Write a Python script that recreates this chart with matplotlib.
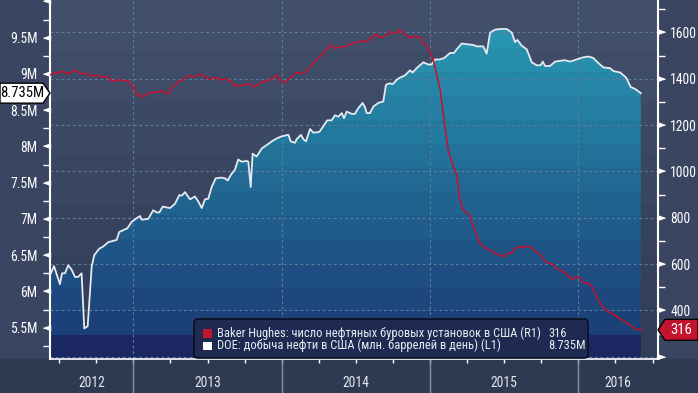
import numpy as np
import matplotlib
matplotlib.use("Agg")
import matplotlib.pyplot as plt
import matplotlib.transforms as mtransforms
from matplotlib import font_manager as fm
from matplotlib.patches import Polygon, FancyBboxPatch, Rectangle
from matplotlib.colors import to_rgb

# DOE: US crude output, mln barrels/day (left axis)
oil_t = [2012.444, 2012.465, 2012.505, 2012.519, 2012.539, 2012.561, 2012.584, 2012.606, 2012.628, 2012.651,
         2012.669, 2012.692, 2012.719, 2012.736, 2012.770, 2012.797, 2012.831, 2012.887, 2012.905, 2012.959,
         2012.989,
         2013.022, 2013.045, 2013.056, 2013.100, 2013.134, 2013.157, 2013.175, 2013.198, 2013.247, 2013.281,
         2013.310, 2013.326, 2013.348, 2013.382, 2013.415, 2013.438, 2013.461, 2013.483, 2013.505, 2013.528,
         2013.555, 2013.591, 2013.618, 2013.636, 2013.658, 2013.685, 2013.707, 2013.730, 2013.764, 2013.775,
         2013.791, 2013.804, 2013.831, 2013.865, 2013.899, 2013.933, 2013.966,
         2014.000, 2014.045, 2014.061, 2014.090, 2014.101, 2014.130, 2014.146, 2014.164, 2014.191, 2014.213,
         2014.254, 2014.281, 2014.307, 2014.337, 2014.359, 2014.382, 2014.405, 2014.420, 2014.438, 2014.472,
         2014.494, 2014.517, 2014.546, 2014.562, 2014.573, 2014.595, 2014.618, 2014.651, 2014.685, 2014.703,
         2014.726, 2014.749, 2014.776, 2014.798, 2014.831, 2014.865, 2014.882, 2014.910, 2014.955, 2014.989,
         2015.011, 2015.034, 2015.067, 2015.096, 2015.135, 2015.162, 2015.180, 2015.214, 2015.248, 2015.292,
         2015.315, 2015.359, 2015.382, 2015.405, 2015.438, 2015.472, 2015.517, 2015.551, 2015.573, 2015.589,
         2015.618, 2015.652, 2015.686, 2015.720, 2015.746, 2015.760, 2015.776, 2015.809, 2015.843, 2015.877,
         2015.910, 2015.944, 2015.989,
         2016.034, 2016.067, 2016.101, 2016.135, 2016.169, 2016.214, 2016.236, 2016.282, 2016.322, 2016.353,
         2016.385, 2016.421]
oil_v = [6.25, 6.35, 6.10, 6.25, 6.25, 6.36, 6.30, 6.20, 6.20, 6.25,
         5.49, 5.52, 6.34, 6.50, 6.59, 6.62, 6.68, 6.71, 6.82, 6.87,
         6.96,
         7.01, 7.04, 6.99, 7.00, 7.12, 7.09, 7.09, 7.17, 7.15, 7.21,
         7.33, 7.32, 7.37, 7.27, 7.31, 7.24, 7.15, 7.27, 7.28, 7.44,
         7.56, 7.57, 7.56, 7.53, 7.61, 7.68, 7.82, 7.79, 7.80, 7.79,
         7.44, 7.90, 7.86, 7.97, 8.02, 8.07, 8.11,
         8.14, 8.16, 8.07, 8.05, 8.10, 8.16, 8.10, 8.07, 8.24, 8.19,
         8.20, 8.28, 8.36, 8.36, 8.43, 8.41, 8.46, 8.39, 8.48, 8.45,
         8.45, 8.53, 8.60, 8.54, 8.46, 8.46, 8.55, 8.60, 8.62, 8.85,
         8.87, 8.86, 8.92, 8.95, 8.98, 9.05, 9.02, 9.08, 9.16, 9.13,
         9.13, 9.20, 9.20, 9.22, 9.29, 9.29, 9.34, 9.42, 9.41, 9.40,
         9.38, 9.38, 9.28, 9.57, 9.61, 9.62, 9.62, 9.57, 9.44, 9.47,
         9.39, 9.34, 9.16, 9.12, 9.12, 9.17, 9.11, 9.11, 9.17, 9.18,
         9.19, 9.17, 9.20,
         9.23, 9.24, 9.22, 9.15, 9.09, 9.08, 9.04, 9.02, 8.95, 8.82,
         8.79, 8.735]

# Baker Hughes: US oil rig count (right axis)
rig_t = [2012.438, 2012.460, 2012.527, 2012.550, 2012.606, 2012.640, 2012.685, 2012.730, 2012.753, 2012.775,
         2012.831, 2012.854, 2012.887, 2012.966,
         2013.000, 2013.022, 2013.056, 2013.078, 2013.112, 2013.157, 2013.202, 2013.235, 2013.258, 2013.281,
         2013.303, 2013.336, 2013.370, 2013.415, 2013.461, 2013.505, 2013.562, 2013.584, 2013.618, 2013.651,
         2013.674, 2013.707, 2013.764, 2013.786, 2013.820, 2013.854, 2013.899, 2013.943, 2013.966, 2013.989,
         2014.022, 2014.056, 2014.101, 2014.135, 2014.169, 2014.202, 2014.247, 2014.281, 2014.303, 2014.326,
         2014.348, 2014.393, 2014.438, 2014.494, 2014.550, 2014.573, 2014.607, 2014.641, 2014.663, 2014.708,
         2014.730, 2014.776, 2014.786, 2014.820, 2014.865, 2014.887, 2014.933, 2014.955, 2014.978,
         2015.000, 2015.022, 2015.045, 2015.067, 2015.090, 2015.123, 2015.157, 2015.180, 2015.202, 2015.225,
         2015.265, 2015.292, 2015.337, 2015.382, 2015.405, 2015.450, 2015.494, 2015.521, 2015.551, 2015.573,
         2015.607, 2015.674, 2015.708, 2015.742, 2015.769, 2015.798, 2015.827, 2015.850, 2015.877, 2015.910,
         2015.939, 2015.962, 2015.971,
         2016.007, 2016.034, 2016.079, 2016.101, 2016.135, 2016.165, 2016.202, 2016.225, 2016.270, 2016.315,
         2016.349, 2016.382, 2016.423]
rig_v = [1416, 1424, 1431, 1421, 1435, 1424, 1421, 1412, 1416, 1409,
         1409, 1387, 1395, 1390,
         1363, 1333, 1323, 1327, 1340, 1342, 1347, 1333, 1363, 1373,
         1387, 1395, 1412, 1409, 1420, 1399, 1405, 1395, 1399, 1392,
         1373, 1369, 1376, 1378, 1363, 1383, 1390, 1402, 1416, 1395,
         1383, 1402, 1428, 1424, 1431, 1460, 1489, 1510, 1527, 1546,
         1532, 1536, 1542, 1556, 1563, 1560, 1579, 1592, 1575, 1589,
         1603, 1596, 1612, 1599, 1576, 1583, 1580, 1553, 1544,
         1513, 1481, 1416, 1359, 1244, 1090, 1020, 984, 876, 833,
         812, 761, 689, 665, 660, 643, 632, 646, 646, 668,
         675, 675, 657, 643, 617, 603, 600, 581, 574, 562,
         545, 531, 543,
         543, 519, 514, 491, 445, 413, 394, 387, 368, 351,
         337, 319, 316]

years = [2012, 2013, 2014, 2015, 2016]
left_ticks = [5.5, 6.0, 6.5, 7.0, 7.5, 8.0, 8.5, 9.0, 9.5]
left_labels = ['5.5M', '6M', '6.5M', '7M', '7.5M', '8M', '8.5M', '9M', '9.5M']
right_ticks = [400, 600, 800, 1000, 1200, 1400, 1600]
legend_names = ['Baker Hughes: число нефтяных буровых установок в США (R1)',
                'DOE: добыча нефти в США (млн. баррелей в день) (L1)']
legend_values = ['316', '8.735M']
oil_last_label = '8.735M'
rig_last_label = '316'

# narrow font if one is there, else shrink a wider one
have = {f.name for f in fm.fontManager.ttflist}
fscale = 0.82
for name, sc in [('Roboto Condensed', 1.0), ('Liberation Sans Narrow', 1.0),
                 ('DejaVu Sans Condensed', 0.9), ('Liberation Sans', 0.85)]:
    if name in have:
        plt.rcParams['font.family'] = [name, 'DejaVu Sans']
        fscale = sc
        break
FS_TICK = 9.8 * fscale
FS_LEG = 9.0 * fscale

W, H = 698, 393
XMIN, XMAX = 2012.438, 2016.535
LMIN, LMAX = 5.068, 10.02
RMIN, RMAX = 190, 1740

fig = plt.figure(figsize=(W / 100, H / 100), dpi=100)
fig.patch.set_facecolor('#3a4661')
fig.patches.append(Rectangle((0, 0), 1, 34 / H, transform=fig.transFigure,
                             color='#2e3952', zorder=-5))

ax = fig.add_axes([50 / W, 34 / H, 607.7 / W, 359 / H])
ax2 = ax.twinx()


def banded(top, bottom, n, last=None):
    # stepwise vertical gradient, one colour per band
    c0, c1 = np.array(to_rgb(top)), np.array(to_rgb(bottom))
    rows = [c0 + (c1 - c0) * i / (n - 1) for i in range(n)]
    if last is not None:
        rows[-1] = np.array(to_rgb(last))
    return np.array(rows)[:, None, :]


# background
bg = banded('#424f6b', '#323e58', 7)
ax.imshow(bg, extent=(0, 1, 0, 1), transform=ax.transAxes, aspect='auto',
          interpolation='nearest', zorder=0)

# area under oil production
poly = ax.fill_between(oil_t, oil_v, LMIN, facecolor='none', linewidth=0)
grad = banded('#289bb5', '#1c3a74', 15, last='#1b2761')
im = ax.imshow(grad, extent=(0, 1, 0, 1), transform=ax.transAxes, aspect='auto',
               interpolation='nearest', zorder=1)
im.set_clip_path(poly.get_paths()[0], ax.transData)

# grid
grid_kw = dict(color='#5d7e9a', lw=0.8, ls=(0, (2.5, 2.5)), zorder=2)
htrans = mtransforms.blended_transform_factory(ax.transAxes, ax2.transData)
for v in [200] + right_ticks:
    ax.plot([0, 1], [v, v], transform=htrans, **grid_kw)
for yr in years[1:]:
    ax.axvline(yr, **grid_kw)

ax.plot(oil_t, oil_v, color='#e4eaf0', lw=1.3, zorder=4)
ax2.plot(rig_t, rig_v, color='#c8102e', lw=1.1, zorder=4)

ax.set_xlim(XMIN, XMAX)
ax.set_ylim(LMIN, LMAX)
ax2.set_ylim(RMIN, RMAX)

for s in ['top', 'right']:
    ax.spines[s].set_visible(False)
for s in ['top', 'left', 'bottom']:
    ax2.spines[s].set_visible(False)
ax.spines['left'].set_color('white')
ax.spines['left'].set_linewidth(1.5)
ax.spines['bottom'].set_color('white')
ax.spines['bottom'].set_linewidth(1.2)
ax2.spines['right'].set_color('white')
ax2.spines['right'].set_linewidth(1.5)

# y ticks
ax.set_yticks(left_ticks)
ax.set_yticklabels(left_labels)
ax.set_yticks(np.arange(5.25, 10.0, 0.5), minor=True)
ax.tick_params(axis='y', which='major', length=0, pad=9, labelcolor='white', labelsize=FS_TICK)
ax.tick_params(axis='y', which='minor', length=5, width=1, color='white')
ax2.set_yticks(right_ticks)
ax2.set_yticks(np.arange(300, 1800, 200), minor=True)
ax2.tick_params(axis='y', which='major', length=0, pad=9, labelcolor='white', labelsize=FS_TICK)
ax2.tick_params(axis='y', which='minor', length=5, width=1, color='white')

ltrans = mtransforms.blended_transform_factory(ax.transAxes, ax.transData)
lmarks = left_ticks + [10.0]
ax.plot([0] * len(lmarks), lmarks, ls='none', marker=[(0, -0.35), (0, 0.35), (-1, 0)],
        ms=10, color='white', transform=ltrans, clip_on=False, zorder=6)
rtrans = mtransforms.blended_transform_factory(ax2.transAxes, ax2.transData)
rmarks = [200] + right_ticks
ax2.plot([1] * len(rmarks), rmarks, ls='none', marker=[(0, -0.35), (0, 0.35), (1, 0)],
         ms=10, color='white', transform=rtrans, clip_on=False, zorder=6)

# x axis: quarter ticks, year separators, year labels
ax.set_xticks([])
quarters = [q for q in np.arange(2012.5, 2016.6, 0.25) if XMIN < q < XMAX]
ax.set_xticks(quarters, minor=True)
ax.tick_params(axis='x', which='minor', length=3, width=1, color='white')
ax.set_xticklabels([], minor=True)
xtrans = mtransforms.blended_transform_factory(ax.transData, ax.transAxes)
for yr in years[1:]:
    ax.plot([yr, yr], [0, -34 / 359], transform=xtrans, clip_on=False, color='#8a93a4', lw=1)
for yr in years:
    a, b = max(yr, XMIN), min(yr + 1, XMAX)
    ax.text((a + b) / 2, -24 / 359, str(yr), transform=xtrans, ha='center', va='center',
            color='#e6e9ee', fontsize=FS_TICK)

# last-value tags
ident = mtransforms.IdentityTransform()
fig.canvas.draw()
yl = ax.transData.transform((XMIN, oil_v[-1]))[1]
fig.patches.append(Polygon([(0, yl - 10), (43, yl - 10), (50, yl), (43, yl + 10), (0, yl + 10)],
                           closed=True, facecolor='white', edgecolor='black', lw=1,
                           transform=ident, zorder=10))
fig.text(22 / W, yl / H, oil_last_label, ha='center', va='center', color='black',
         fontsize=FS_TICK * 1.08, zorder=11)
yr_ = ax2.transData.transform((XMIN, rig_v[-1]))[1]
fig.patches.append(Polygon([(658, yr_), (665, yr_ + 10.5), (698, yr_ + 10.5), (698, yr_ - 10.5),
                            (665, yr_ - 10.5)], closed=True, facecolor='#c4142f',
                           edgecolor='black', lw=1, transform=ident, zorder=10))
fig.text(681 / W, yr_ / H, rig_last_label, ha='center', va='center', color='white',
         fontsize=FS_TICK * 1.08, zorder=11)

# legend box
fig.patches.append(FancyBboxPatch((194, H - 358), 394, 39, boxstyle='round,pad=0,rounding_size=4',
                                  facecolor='#1e2a52', edgecolor='#0b1020', lw=1.2,
                                  transform=ident, zorder=10))
colors = ['#c4142f', 'white']
rows_y = [333.3, 345.7]
for name, val, c, y in zip(legend_names, legend_values, colors, rows_y):
    fig.patches.append(Rectangle((202.5, H - y - 4.2), 9, 8.4, facecolor=c, edgecolor='none',
                                 transform=ident, zorder=11))
    fig.text(216.7 / W, 1 - y / H, name, ha='left', va='center', color='#e8ecf2',
             fontsize=FS_LEG, zorder=12)
    fig.text(548.3 / W, 1 - y / H, val, ha='left', va='center', color='#e8ecf2',
             fontsize=FS_LEG, zorder=12)

fig.savefig('out.png', dpi=100, facecolor=fig.get_facecolor())
